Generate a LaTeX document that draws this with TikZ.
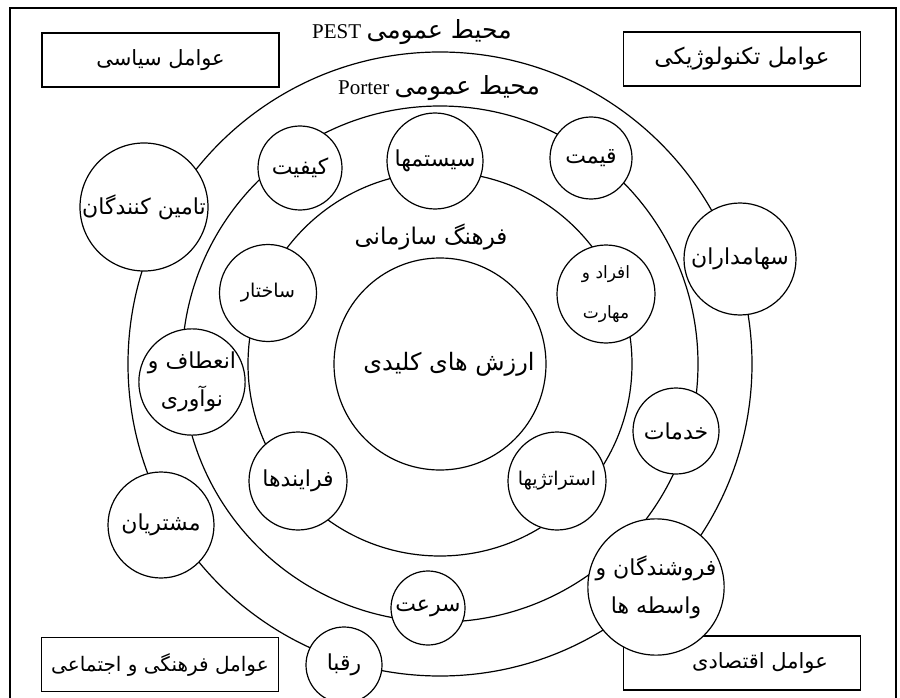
\documentclass[tikz,border=0pt]{standalone}
\usepackage{fontspec}
\setmainfont{Liberation Serif}
\newfontfamily\fa[Script=Arabic]{DejaVu Sans}
\TeXXeTstate=1
\newcommand\fatxt[1]{{\fa\beginR #1\endR}}
\tikzset{
  ring/.style={line width=1.2pt},
  bubble/.style={circle, draw, line width=1.2pt, fill=white, inner sep=0pt, align=center,
    font=\fa\fontsize{22}{38}\selectfont},
  small/.style={font=\fa\fontsize{19}{38}\selectfont},
  factor/.style={rectangle, draw, line width=1.2pt, fill=white, inner sep=0pt,
    minimum width=237, minimum height=54, font=\fa\fontsize{21}{24}\selectfont},
  ringlabel/.style={inner sep=0pt, font=\fontsize{21}{24}\selectfont},
  frame/.style={line width=2pt}
}
\begin{document}
\begin{tikzpicture}[x=1pt,y=-1pt]
\useasboundingbox (0,0) rectangle (900,698);
\clip (0,0) rectangle (900,698);
% frame
\coordinate (f1) at (10,710);
\coordinate (f2) at (10,8);
\coordinate (f3) at (896,8);
\coordinate (f4) at (896,710);
\draw[frame] (f1) -- (f2) -- (f3) -- (f4);
% factor boxes
\node[factor] (pol) at (160.5,60) {\fatxt{عوامل سیاسی}};
\node[factor, font=\fa\fontsize{23}{24}\selectfont] (tech) at (742,59) {\fatxt{عوامل تکنولوژیکی}};
\node[factor, font=\fa\fontsize{20}{24}\selectfont] (soc) at (160,664.5) {\fatxt{عوامل فرهنگی و اجتماعی}};
\node[factor] (eco) at (742,663) {\hspace*{36pt}\fatxt{عوامل اقتصادی}};
% rings
\coordinate (o) at (440,364);
\draw[ring] (o) circle[radius=192];
\draw[ring] (o) circle[radius=258];
\draw[ring] (o) circle[radius=312];
% ring labels
\node[ringlabel] (pest) at (412,32) {PEST\ \fatxt{\fontsize{25}{26}\selectfont محیط عمومی}};
\node[ringlabel] (porter) at (439,88) {Porter\ \fatxt{\fontsize{25}{26}\selectfont محیط عمومی}};
\node[ringlabel, font=\fa\fontsize{23}{24}\selectfont] (culture) at (431,237) {\fatxt{فرهنگ سازمانی}};
% core
\node[bubble, minimum size=212, font=\fa\fontsize{24}{28}\selectfont] (core) at (o) {\hspace*{18pt}\fatxt{ارزش های کلیدی}};
% outer ring (PEST) bubbles
\node[bubble, minimum size=128] (tamin) at (144,207) {\fatxt{تامین کنندگان}};
\node[bubble, minimum size=112] (sahm) at (740,259) {\fatxt{سهامداران}};
\node[bubble, minimum size=136] (forush) at (656,587) {\fatxt{فروشندگان و}\\\fatxt{واسطه ها}};
\node[bubble, minimum size=76] (roqaba) at (344,665) {\fatxt{رقبا}};
\node[bubble, minimum size=106] (moshtari) at (161,525) {\fatxt{مشتریان}};
% Porter ring bubbles
\node[bubble, minimum size=84] (keyfiyat) at (300,168) {\fatxt{کیفیت}};
\node[bubble, minimum size=82] (qeymat) at (591,158) {\fatxt{قیمت}};
\node[bubble, minimum size=86] (khadamat) at (676,431) {\fatxt{خدمات}};
\node[bubble, minimum size=74] (sorat) at (428,608) {\fatxt{سرعت}};
\node[bubble, minimum size=104] (enetaf) at (192,382) {\fatxt{انعطاف و}\\\fatxt{نوآوری}};
% culture ring bubbles
\node[bubble, minimum size=96] (system) at (435,161) {\fatxt{سیستمها}};
\node[bubble, small, minimum size=97] (sakhtar) at (268,293) {\fatxt{ساختار}};
\node[bubble, small, minimum size=98, font=\fa\fontsize{17}{40}\selectfont] (afrad) at (606,294) {\fatxt{افراد و}\\\fatxt{مهارت}};
\node[bubble, small, minimum size=98] (strategy) at (557,481) {\fatxt{استراتژیها}};
\node[bubble, minimum size=98] (farayand) at (298,481) {\fatxt{فرایندها}};
\end{tikzpicture}
\end{document}
